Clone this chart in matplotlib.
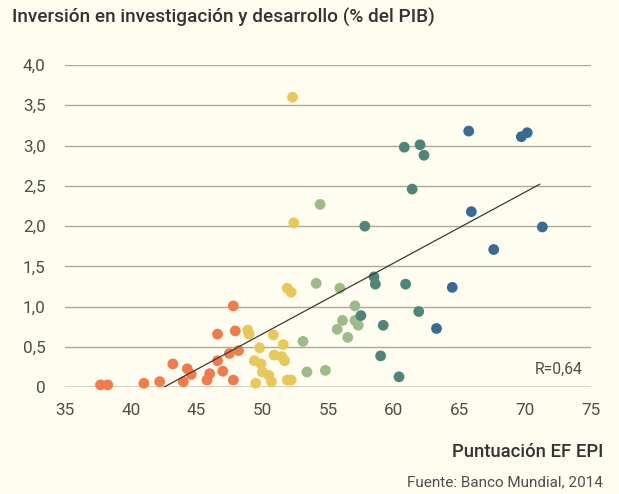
import matplotlib
matplotlib.use('Agg')
import matplotlib.pyplot as plt
import numpy as np

# EF EPI score vs R&D spending (% of GDP), grouped by proficiency band
orange_x = [37.7, 38.25, 41.0, 42.2, 43.2, 44.0, 44.3, 44.6, 45.8, 46.0, 46.6, 46.6, 47.0, 47.5, 47.8, 47.95, 47.8, 48.2]
orange_y = [0.03, 0.03, 0.05, 0.07, 0.29, 0.07, 0.23, 0.16, 0.09, 0.17, 0.33, 0.66, 0.20, 0.42, 1.01, 0.70, 0.09, 0.455]

yellow_x = [52.3, 52.4, 51.9, 52.2, 48.9, 49.0, 50.85, 49.8, 51.6, 50.9, 51.5, 51.7, 49.4, 49.9, 50.0, 50.5, 50.7, 49.5, 51.9, 52.2]
yellow_y = [3.60, 2.04, 1.23, 1.18, 0.71, 0.66, 0.65, 0.49, 0.53, 0.40, 0.38, 0.33, 0.33, 0.29, 0.19, 0.15, 0.07, 0.05, 0.09, 0.09]

green_x = [54.4, 54.1, 55.9, 57.05, 56.1, 55.7, 57.05, 57.3, 56.5, 53.1, 53.4, 54.8]
green_y = [2.27, 1.29, 1.23, 1.01, 0.83, 0.72, 0.83, 0.77, 0.62, 0.57, 0.19, 0.21]

teal_x = [60.8, 62.0, 62.3, 61.4, 57.8, 58.5, 58.6, 60.9, 57.5, 61.9, 59.2, 59.0, 60.4]
teal_y = [2.98, 3.01, 2.88, 2.46, 2.00, 1.37, 1.28, 1.28, 0.89, 0.94, 0.77, 0.39, 0.13]

blue_x = [65.7, 69.7, 70.15, 65.9, 71.3, 67.6, 64.45, 63.25]
blue_y = [3.18, 3.11, 3.16, 2.18, 1.99, 1.71, 1.24, 0.73]

trend_x = [42.5, 71.1]
trend_y = [0.0, 2.52]

xticks = [35, 40, 45, 50, 55, 60, 65, 70, 75]
yticks = [0, 0.5, 1.0, 1.5, 2.0, 2.5, 3.0, 3.5, 4.0]
ytick_labels = ['0', '0,5', '1,0', '1,5', '2,0', '2,5', '3,0', '3,5', '4,0']

bg = '#FEFDF0'
plt.rcParams['font.family'] = ['Roboto', 'DejaVu Sans']

fig = plt.figure(figsize=(6.19, 4.94), dpi=100, facecolor=bg)
ax = fig.add_axes([65 / 619, 1 - 387.3 / 494, 526 / 619, 322.3 / 494])
ax.set_facecolor(bg)

groups = [
    (orange_x, orange_y, '#F17B4A'),
    (yellow_x, yellow_y, '#E7C95B'),
    (green_x, green_y, '#9DBB88'),
    (teal_x, teal_y, '#4F8479'),
    (blue_x, blue_y, '#376B95'),
]
for gx, gy, c in groups:
    ax.scatter(gx, gy, s=60, color=c, edgecolors='none', zorder=3, clip_on=False)

ax.plot(trend_x, trend_y, color='#3A3A3A', lw=0.9, zorder=4)

ax.set_xlim(35, 75)
ax.set_ylim(0, 4.0)
ax.set_xticks(xticks)
ax.set_yticks(yticks)
ax.set_yticklabels(ytick_labels)
ax.tick_params(length=0, labelsize=12.3, labelcolor='#4D4D4D', pad=14)
ax.tick_params(axis='x', pad=11)
for s in ax.spines.values():
    s.set_visible(False)
ax.grid(axis='y', color='#AEAA9B', lw=1.0, zorder=1)
ax.axhline(0, color='#D2CFBE', lw=2.0, zorder=2)

ax.text(0.985, 0.055, 'R=0,64', transform=ax.transAxes, ha='right', va='center',
        fontsize=11.3, color='#4D4D4D')

fig.text(12 / 619, 1 - 17 / 494, 'Inversión en investigación y desarrollo (% del PIB)',
         ha='left', va='center', fontsize=13.7, color='#333333', fontweight='medium')
fig.text(603 / 619, 1 - 452 / 494, 'Puntuación EF EPI', ha='right', va='center',
         fontsize=13.3, color='#333333', fontweight='medium')
fig.text(603 / 619, 1 - 482 / 494, 'Fuente: Banco Mundial, 2014', ha='right', va='center',
         fontsize=11.0, color='#4D4D4D')

fig.savefig('out.png', dpi=100, facecolor=bg)
